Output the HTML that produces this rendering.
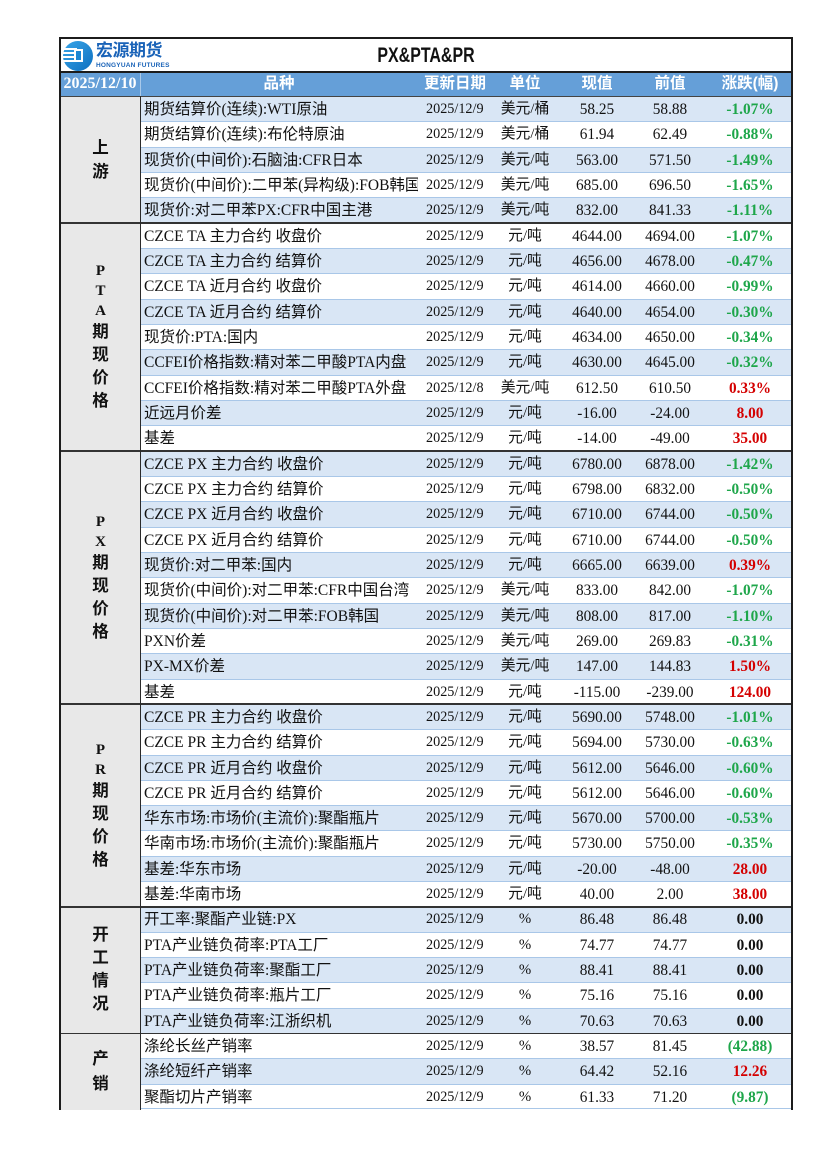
<!DOCTYPE html>
<html><head><meta charset="utf-8">
<style>
*{margin:0;padding:0;box-sizing:border-box}
html,body{width:826px;height:1169px;background:#fff;overflow:hidden}
body{position:relative;font-family:"Liberation Serif","Noto Sans CJK SC",serif;color:#111}
.abs{position:absolute}
.r{position:absolute;left:140px;width:652px;height:25.4px;border-top:1px solid #a9c7e8}
.s{background:#d9e6f5}
.r span{position:absolute;top:0;height:25px;line-height:25px;white-space:nowrap;overflow:hidden}
.n{left:4px;width:274px;font-size:15.5px}
.d{left:286px;font-size:14.2px}
.u{left:352px;width:66px;text-align:center;font-size:14.8px}
.v{left:420px;width:74px;text-align:center;font-size:15.3px}
.p{left:494px;width:72px;text-align:center;font-size:15.3px}
.c{left:568px;width:84px;text-align:center;font-weight:bold;font-size:15.3px}
.g{color:#1ea64a}.rd{color:#d40000}.k{color:#111}
.cat{position:absolute;left:61px;width:79px;background:#e8e8e8;display:flex;flex-direction:column;align-items:center;justify-content:center;font-weight:bold}
.cat .l{font-family:"Liberation Serif",serif;font-size:15px;line-height:20px;height:20px}
.cat .z{font-family:"Liberation Sans","Noto Sans CJK SC",sans-serif;font-size:16.5px;line-height:23px;height:23px}
.dk{position:absolute;left:60px;width:732px;height:1px;background:#333}
.hd{position:absolute;top:72px;height:24px;line-height:24px;color:#fff;font-weight:bold;text-align:center;font-family:"Liberation Sans","Noto Sans CJK SC",sans-serif;font-size:15.5px}
</style></head><body>

<!-- title area -->
<div class="abs" style="left:59px;top:37px;width:734px;height:1073px;border:2px solid #1c1c1c;border-bottom:none"></div>
<svg class="abs" style="left:61px;top:40px" width="34" height="32" viewBox="0 0 34 32">
<defs><linearGradient id="lg" x1="0" y1="0" x2="1" y2="1"><stop offset="0" stop-color="#3aa6e8"/><stop offset="1" stop-color="#0d6fc0"/></linearGradient></defs>
<circle cx="17" cy="16" r="15" fill="url(#lg)"/>
<rect x="2" y="8" width="14" height="2" fill="#fff"/>
<rect x="2" y="12" width="14" height="2" fill="#fff"/>
<rect x="2" y="16" width="14" height="2" fill="#fff"/>
<rect x="2" y="20" width="14" height="2" fill="#fff"/>
<rect x="13" y="9" width="9" height="13" fill="#fff"/>
<rect x="15" y="11" width="5" height="9" fill="#1c86d2"/>
</svg>
<div class="abs" style="left:96px;top:41px;font-family:'Liberation Sans','Noto Sans CJK SC',sans-serif;font-weight:bold;font-size:17px;line-height:20px;color:#1a63b8;letter-spacing:-0.5px">宏源期货</div>
<div class="abs" style="left:96px;top:62px;font-family:'Liberation Sans',sans-serif;font-weight:bold;font-size:6.5px;line-height:8px;color:#1a63b8;letter-spacing:0.2px">HONGYUAN FUTURES</div>
<div class="abs" style="left:326px;top:43px;width:200px;text-align:center;font-family:'Liberation Sans',sans-serif;font-weight:bold;font-size:21px;line-height:26px;color:#111;transform:scaleX(0.76)">PX&amp;PTA&amp;PR</div>
<div class="abs" style="left:60px;top:71px;width:732px;height:2px;background:#1c1c1c"></div>

<!-- header -->
<div class="abs" style="left:61px;top:73px;width:730px;height:23px;background:#659fd8"></div>
<div class="abs" style="left:140px;top:73px;width:1px;height:23px;background:#a9c9ea"></div>
<div class="hd" style="left:60px;width:80px;font-family:'Liberation Serif',serif;font-size:16px">2025/12/10</div>
<div class="hd" style="left:140px;width:278px">品种</div>
<div class="hd" style="left:418px;width:74px">更新日期</div>
<div class="hd" style="left:492px;width:66px">单位</div>
<div class="hd" style="left:560px;width:74px">现值</div>
<div class="hd" style="left:634px;width:72px">前值</div>
<div class="hd" style="left:708px;width:84px">涨跌(幅)</div>

<!-- category cells -->
<div class="cat" style="top:97px;height:125.6px"><div class="z" style="height:24px;line-height:24px">上</div><div class="z" style="height:24px;line-height:24px">游</div></div>
<div class="cat" style="top:223.6px;height:227px"><div class="l">P</div><div class="l">T</div><div class="l">A</div><div class="z">期</div><div class="z">现</div><div class="z">价</div><div class="z">格</div></div>
<div class="cat" style="top:451.6px;height:252.2px"><div class="l">P</div><div class="l">X</div><div class="z">期</div><div class="z">现</div><div class="z">价</div><div class="z">格</div></div>
<div class="cat" style="top:704.8px;height:201.6px"><div class="l">P</div><div class="l">R</div><div class="z">期</div><div class="z">现</div><div class="z">价</div><div class="z">格</div></div>
<div class="cat" style="top:907.4px;height:125.6px"><div class="z">开</div><div class="z">工</div><div class="z">情</div><div class="z">况</div></div>
<div class="cat" style="top:1034px;height:76px"><div class="z" style="height:25px;line-height:25px">产</div><div class="z" style="height:25px;line-height:25px">销</div></div>

<!-- rows -->
<div class="r s" style="top:96px"><span class="n">期货结算价(连续):WTI原油</span><span class="d">2025/12/9</span><span class="u">美元/桶</span><span class="v">58.25</span><span class="p">58.88</span><span class="c g">-1.07%</span></div>
<div class="r" style="top:121.3px"><span class="n">期货结算价(连续):布伦特原油</span><span class="d">2025/12/9</span><span class="u">美元/桶</span><span class="v">61.94</span><span class="p">62.49</span><span class="c g">-0.88%</span></div>
<div class="r s" style="top:146.7px"><span class="n">现货价(中间价):石脑油:CFR日本</span><span class="d">2025/12/9</span><span class="u">美元/吨</span><span class="v">563.00</span><span class="p">571.50</span><span class="c g">-1.49%</span></div>
<div class="r" style="top:172px"><span class="n">现货价(中间价):二甲苯(异构级):FOB韩国</span><span class="d">2025/12/9</span><span class="u">美元/吨</span><span class="v">685.00</span><span class="p">696.50</span><span class="c g">-1.65%</span></div>
<div class="r s" style="top:197.3px"><span class="n">现货价:对二甲苯PX:CFR中国主港</span><span class="d">2025/12/9</span><span class="u">美元/吨</span><span class="v">832.00</span><span class="p">841.33</span><span class="c g">-1.11%</span></div>
<div class="r" style="top:222.6px"><span class="n">CZCE TA 主力合约 收盘价</span><span class="d">2025/12/9</span><span class="u">元/吨</span><span class="v">4644.00</span><span class="p">4694.00</span><span class="c g">-1.07%</span></div>
<div class="r s" style="top:248px"><span class="n">CZCE TA 主力合约 结算价</span><span class="d">2025/12/9</span><span class="u">元/吨</span><span class="v">4656.00</span><span class="p">4678.00</span><span class="c g">-0.47%</span></div>
<div class="r" style="top:273.3px"><span class="n">CZCE TA 近月合约 收盘价</span><span class="d">2025/12/9</span><span class="u">元/吨</span><span class="v">4614.00</span><span class="p">4660.00</span><span class="c g">-0.99%</span></div>
<div class="r s" style="top:298.6px"><span class="n">CZCE TA 近月合约 结算价</span><span class="d">2025/12/9</span><span class="u">元/吨</span><span class="v">4640.00</span><span class="p">4654.00</span><span class="c g">-0.30%</span></div>
<div class="r" style="top:323.9px"><span class="n">现货价:PTA:国内</span><span class="d">2025/12/9</span><span class="u">元/吨</span><span class="v">4634.00</span><span class="p">4650.00</span><span class="c g">-0.34%</span></div>
<div class="r s" style="top:349.3px"><span class="n">CCFEI价格指数:精对苯二甲酸PTA内盘</span><span class="d">2025/12/9</span><span class="u">元/吨</span><span class="v">4630.00</span><span class="p">4645.00</span><span class="c g">-0.32%</span></div>
<div class="r" style="top:374.6px"><span class="n">CCFEI价格指数:精对苯二甲酸PTA外盘</span><span class="d">2025/12/8</span><span class="u">美元/吨</span><span class="v">612.50</span><span class="p">610.50</span><span class="c rd">0.33%</span></div>
<div class="r s" style="top:399.9px"><span class="n">近远月价差</span><span class="d">2025/12/9</span><span class="u">元/吨</span><span class="v">-16.00</span><span class="p">-24.00</span><span class="c rd">8.00</span></div>
<div class="r" style="top:425.2px"><span class="n">基差</span><span class="d">2025/12/9</span><span class="u">元/吨</span><span class="v">-14.00</span><span class="p">-49.00</span><span class="c rd">35.00</span></div>
<div class="r s" style="top:450.6px"><span class="n">CZCE PX 主力合约 收盘价</span><span class="d">2025/12/9</span><span class="u">元/吨</span><span class="v">6780.00</span><span class="p">6878.00</span><span class="c g">-1.42%</span></div>
<div class="r" style="top:475.9px"><span class="n">CZCE PX 主力合约 结算价</span><span class="d">2025/12/9</span><span class="u">元/吨</span><span class="v">6798.00</span><span class="p">6832.00</span><span class="c g">-0.50%</span></div>
<div class="r s" style="top:501.2px"><span class="n">CZCE PX 近月合约 收盘价</span><span class="d">2025/12/9</span><span class="u">元/吨</span><span class="v">6710.00</span><span class="p">6744.00</span><span class="c g">-0.50%</span></div>
<div class="r" style="top:526.5px"><span class="n">CZCE PX 近月合约 结算价</span><span class="d">2025/12/9</span><span class="u">元/吨</span><span class="v">6710.00</span><span class="p">6744.00</span><span class="c g">-0.50%</span></div>
<div class="r s" style="top:551.9px"><span class="n">现货价:对二甲苯:国内</span><span class="d">2025/12/9</span><span class="u">元/吨</span><span class="v">6665.00</span><span class="p">6639.00</span><span class="c rd">0.39%</span></div>
<div class="r" style="top:577.2px"><span class="n">现货价(中间价):对二甲苯:CFR中国台湾</span><span class="d">2025/12/9</span><span class="u">美元/吨</span><span class="v">833.00</span><span class="p">842.00</span><span class="c g">-1.07%</span></div>
<div class="r s" style="top:602.5px"><span class="n">现货价(中间价):对二甲苯:FOB韩国</span><span class="d">2025/12/9</span><span class="u">美元/吨</span><span class="v">808.00</span><span class="p">817.00</span><span class="c g">-1.10%</span></div>
<div class="r" style="top:627.8px"><span class="n">PXN价差</span><span class="d">2025/12/9</span><span class="u">美元/吨</span><span class="v">269.00</span><span class="p">269.83</span><span class="c g">-0.31%</span></div>
<div class="r s" style="top:653.2px"><span class="n">PX-MX价差</span><span class="d">2025/12/9</span><span class="u">美元/吨</span><span class="v">147.00</span><span class="p">144.83</span><span class="c rd">1.50%</span></div>
<div class="r" style="top:678.5px"><span class="n">基差</span><span class="d">2025/12/9</span><span class="u">元/吨</span><span class="v">-115.00</span><span class="p">-239.00</span><span class="c rd">124.00</span></div>
<div class="r s" style="top:703.8px"><span class="n">CZCE PR 主力合约 收盘价</span><span class="d">2025/12/9</span><span class="u">元/吨</span><span class="v">5690.00</span><span class="p">5748.00</span><span class="c g">-1.01%</span></div>
<div class="r" style="top:729.1px"><span class="n">CZCE PR 主力合约 结算价</span><span class="d">2025/12/9</span><span class="u">元/吨</span><span class="v">5694.00</span><span class="p">5730.00</span><span class="c g">-0.63%</span></div>
<div class="r s" style="top:754.5px"><span class="n">CZCE PR 近月合约 收盘价</span><span class="d">2025/12/9</span><span class="u">元/吨</span><span class="v">5612.00</span><span class="p">5646.00</span><span class="c g">-0.60%</span></div>
<div class="r" style="top:779.8px"><span class="n">CZCE PR 近月合约 结算价</span><span class="d">2025/12/9</span><span class="u">元/吨</span><span class="v">5612.00</span><span class="p">5646.00</span><span class="c g">-0.60%</span></div>
<div class="r s" style="top:805.1px"><span class="n">华东市场:市场价(主流价):聚酯瓶片</span><span class="d">2025/12/9</span><span class="u">元/吨</span><span class="v">5670.00</span><span class="p">5700.00</span><span class="c g">-0.53%</span></div>
<div class="r" style="top:830.4px"><span class="n">华南市场:市场价(主流价):聚酯瓶片</span><span class="d">2025/12/9</span><span class="u">元/吨</span><span class="v">5730.00</span><span class="p">5750.00</span><span class="c g">-0.35%</span></div>
<div class="r s" style="top:855.8px"><span class="n">基差:华东市场</span><span class="d">2025/12/9</span><span class="u">元/吨</span><span class="v">-20.00</span><span class="p">-48.00</span><span class="c rd">28.00</span></div>
<div class="r" style="top:881.1px"><span class="n">基差:华南市场</span><span class="d">2025/12/9</span><span class="u">元/吨</span><span class="v">40.00</span><span class="p">2.00</span><span class="c rd">38.00</span></div>
<div class="r s" style="top:906.4px"><span class="n">开工率:聚酯产业链:PX</span><span class="d">2025/12/9</span><span class="u">%</span><span class="v">86.48</span><span class="p">86.48</span><span class="c k">0.00</span></div>
<div class="r" style="top:931.7px"><span class="n">PTA产业链负荷率:PTA工厂</span><span class="d">2025/12/9</span><span class="u">%</span><span class="v">74.77</span><span class="p">74.77</span><span class="c k">0.00</span></div>
<div class="r s" style="top:957.1px"><span class="n">PTA产业链负荷率:聚酯工厂</span><span class="d">2025/12/9</span><span class="u">%</span><span class="v">88.41</span><span class="p">88.41</span><span class="c k">0.00</span></div>
<div class="r" style="top:982.4px"><span class="n">PTA产业链负荷率:瓶片工厂</span><span class="d">2025/12/9</span><span class="u">%</span><span class="v">75.16</span><span class="p">75.16</span><span class="c k">0.00</span></div>
<div class="r s" style="top:1007.7px"><span class="n">PTA产业链负荷率:江浙织机</span><span class="d">2025/12/9</span><span class="u">%</span><span class="v">70.63</span><span class="p">70.63</span><span class="c k">0.00</span></div>
<div class="r" style="top:1033px"><span class="n">涤纶长丝产销率</span><span class="d">2025/12/9</span><span class="u">%</span><span class="v">38.57</span><span class="p">81.45</span><span class="c g">(42.88)</span></div>
<div class="r s" style="top:1058.4px"><span class="n">涤纶短纤产销率</span><span class="d">2025/12/9</span><span class="u">%</span><span class="v">64.42</span><span class="p">52.16</span><span class="c rd">12.26</span></div>
<div class="r" style="top:1083.7px;border-bottom:1px solid #a9c7e8"><span class="n">聚酯切片产销率</span><span class="d">2025/12/9</span><span class="u">%</span><span class="v">61.33</span><span class="p">71.20</span><span class="c g">(9.87)</span></div>

<!-- dark lines -->
<div class="dk" style="top:96px;background:#444"></div>
<div class="dk" style="top:222px;height:1.5px"></div>
<div class="dk" style="top:450px;height:1.5px"></div>
<div class="dk" style="top:703px;height:1.5px"></div>
<div class="dk" style="top:906px;height:1.5px"></div>
<div class="dk" style="top:1032.5px;height:1.5px"></div>
<div class="abs" style="left:139.5px;top:96px;width:1.5px;height:1014px;background:#2a2a2a"></div>
<div class="abs" style="left:59px;top:96px;width:2px;height:1014px;background:#1c1c1c"></div>
<div class="abs" style="left:791px;top:37px;width:2px;height:1073px;background:#1c1c1c"></div>
</body></html>
